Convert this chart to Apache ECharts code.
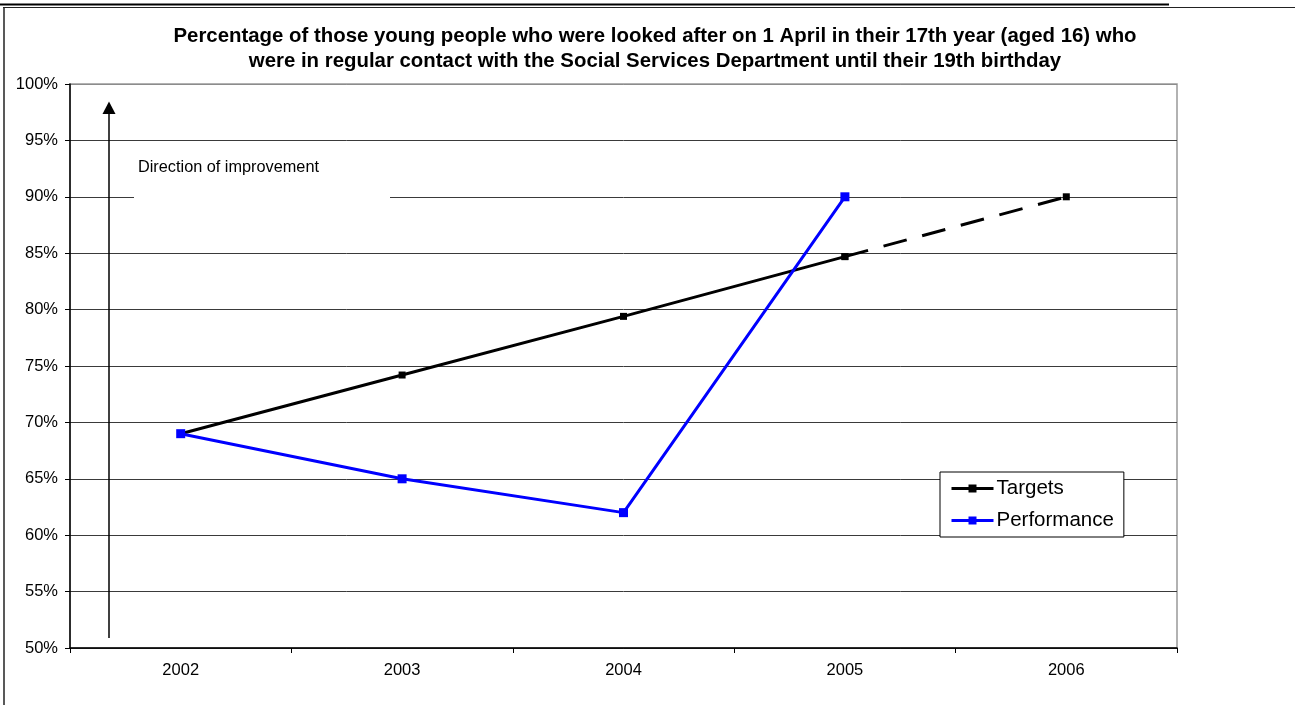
<!DOCTYPE html>
<html>
<head>
<meta charset="utf-8">
<script src="https://cdn.jsdelivr.net/npm/echarts@6/dist/echarts.min.js"></script>
<style>
html,body{margin:0;padding:0;background:#fff;}
#chart{width:1295px;height:705px;}
</style>
</head>
<body>
<div id="chart"></div>
<script>
const years = ['2002', '2003', '2004', '2005', '2006'];
const targets = [69, 74.2, 79.4, 84.7, null];
const targetsProjected = [null, null, null, 84.7, 90];
const performance = [69, 65, 62, 90, null];
const titleText = 'Percentage of those young people who were looked after on 1 April in their 17th year (aged 16) who\nwere in regular contact with the Social Services Department until their 19th birthday';
const annotationText = 'Direction of improvement';

const FONT = 'Arial, "Liberation Sans", sans-serif';
const chart = echarts.init(document.getElementById('chart'), null, {renderer: 'canvas'});

const splitColors = [];
for (let i = 0; i < 11; i++) splitColors.push(i === 10 ? '#8c8c8c' : '#3a3a3a');

chart.setOption({
  animation: false,
  backgroundColor: '#fff',
  title: {
    text: titleText,
    left: 655,
    top: 24,
    padding: 0,
    textAlign: 'center',
    textStyle: {fontFamily: FONT, fontSize: 20.4, fontWeight: 'bold', color: '#000', lineHeight: 25}
  },
  grid: {
    left: 70, right: 118, top: 84, bottom: 57,
    show: true, borderColor: '#999', borderWidth: 1.5, backgroundColor: 'transparent'
  },
  legend: {
    data: ['Targets', 'Performance'],
    orient: 'vertical',
    left: 940,
    top: 472,
    padding: [6, 10, 6, 10],
    itemGap: 11,
    itemWidth: 42,
    itemHeight: 10,
    backgroundColor: '#fff',
    borderColor: '#000',
    borderWidth: 1,
    lineStyle: {width: 3},
    textStyle: {fontFamily: FONT, fontSize: 20.5, color: '#000', padding: [0, 0, 0, -2]}
  },
  xAxis: {
    type: 'category',
    data: years,
    boundaryGap: true,
    axisLine: {lineStyle: {color: '#000', width: 1.5}},
    axisTick: {show: true, length: 5, lineStyle: {color: '#000'}},
    axisLabel: {fontFamily: FONT, fontSize: 16.5, color: '#000', margin: 14},
    splitLine: {show: false}
  },
  yAxis: {
    type: 'value',
    min: 50, max: 100, interval: 5,
    axisLine: {show: true, lineStyle: {color: '#000', width: 1.5}},
    axisTick: {show: true, length: 5, lineStyle: {color: '#000'}},
    axisLabel: {fontFamily: FONT, fontSize: 16.5, color: '#000', margin: 12, formatter: '{value}%'},
    splitLine: {show: true, lineStyle: {color: splitColors, width: 1}}
  },
  graphic: [
    {type: 'line', shape: {x1: 0, y1: 4.5, x2: 1169, y2: 4.5}, style: {stroke: '#000', lineWidth: 2}, silent: true},
    {type: 'line', shape: {x1: 3, y1: 7.5, x2: 1295, y2: 7.5}, style: {stroke: '#222', lineWidth: 1.2}, silent: true},
    {type: 'line', shape: {x1: 4, y1: 7, x2: 4, y2: 705}, style: {stroke: '#222', lineWidth: 1.5}, silent: true},
    {type: 'rect', shape: {x: 134, y: 152, width: 256, height: 50}, style: {fill: '#fff'}, z: 1, silent: true},
    {type: 'text', x: 138, y: 168, style: {text: annotationText, fontFamily: FONT, fontSize: 16.3, fill: '#000', verticalAlign: 'middle', textAlign: 'left'}, z: 2, silent: true},
    {type: 'line', shape: {x1: 109, y1: 638, x2: 109, y2: 110}, style: {stroke: '#000', lineWidth: 1.5}, z: 2, silent: true},
    {type: 'polygon', shape: {points: [[109, 101.5], [102.5, 114], [115.5, 114]]}, style: {fill: '#000'}, z: 2, silent: true}
  ],
  series: [
    {
      name: 'Targets',
      type: 'line',
      data: targets,
      symbol: 'rect',
      symbolSize: 7,
      showAllSymbol: true,
      lineStyle: {color: '#000', width: 3},
      itemStyle: {color: '#000'},
      z: 3
    },
    {
      name: 'Targets (projected)',
      type: 'line',
      data: targetsProjected,
      symbol: 'rect',
      symbolSize: 7,
      lineStyle: {color: '#000', width: 3, type: [24, 16]},
      itemStyle: {color: '#000'},
      z: 3
    },
    {
      name: 'Performance',
      type: 'line',
      data: performance,
      symbol: 'rect',
      symbolSize: 9,
      lineStyle: {color: '#0000ff', width: 3},
      itemStyle: {color: '#0000ff'},
      z: 4
    }
  ]
});
</script>
</body>
</html>
